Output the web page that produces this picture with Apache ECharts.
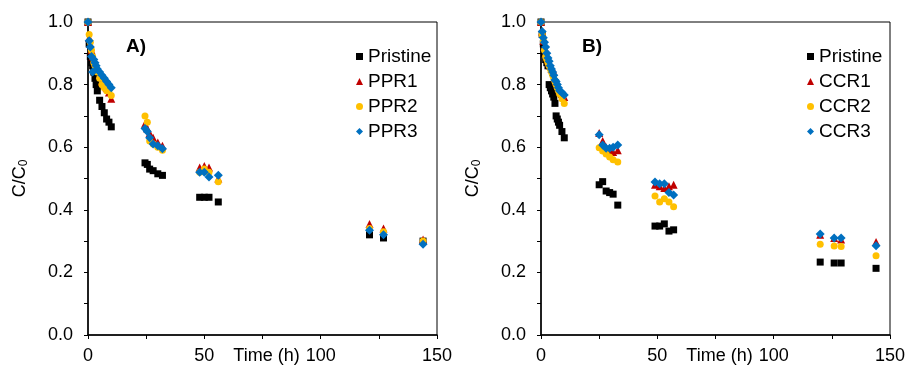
<!DOCTYPE html>
<html>
<head>
<meta charset="utf-8">
<script src="https://cdn.jsdelivr.net/npm/echarts@6/dist/echarts.min.js"></script>
<style>
  html, body { margin: 0; padding: 0; background: #fff; }
  #chart { width: 907px; height: 380px; }
</style>
</head>
<body>
<div id="chart"></div>
<script>
// panel A: times (h) and C/C0 values
let timeA = [0, 0.5, 1, 1.5, 2, 2.5, 3, 3.5, 4, 5, 6, 7, 8, 9, 10,
	24.5, 25.5, 26.5, 28, 30, 32,
	48, 50, 52, 56,
	121, 127, 144];
let pristineA = [1.0, 0.93, 0.89, 0.87, 0.86, 0.84, 0.82, 0.80, 0.78, 0.75, 0.73, 0.71, 0.69, 0.68, 0.665,
	0.55, 0.545, 0.53, 0.525, 0.515, 0.51,
	0.44, 0.44, 0.44, 0.425,
	0.32, 0.31, 0.30];
let ppr1 = [1.0, 0.95, 0.93, 0.91, 0.89, 0.88, 0.87, 0.86, 0.85, 0.83, 0.81, 0.80, 0.79, 0.775, 0.755,
	0.675, 0.66, 0.645, 0.63, 0.615, 0.605,
	0.535, 0.54, 0.535, 0.50,
	0.355, 0.34, 0.305];
let ppr2 = [1.0, 0.96, 0.935, 0.91, 0.89, 0.87, 0.86, 0.85, 0.84, 0.82, 0.80, 0.79, 0.78, 0.78, 0.765,
	0.70, 0.68, 0.62, 0.61, 0.60, 0.59,
	0.52, 0.53, 0.52, 0.49,
	0.34, 0.33, 0.30];
let ppr3 = [1.0, 0.94, 0.92, 0.89, 0.84, 0.88, 0.87, 0.86, 0.85, 0.84, 0.83, 0.82, 0.81, 0.80, 0.79,
	0.66, 0.65, 0.63, 0.61, 0.605, 0.595,
	0.52, 0.52, 0.505, 0.51,
	0.335, 0.32, 0.29];

// panel B
let timeB = [0, 0.5, 1, 1.5, 2, 2.5, 3, 3.5, 4, 4.5, 5, 5.5, 6, 6.5, 7, 7.5, 8, 9, 10,
	25, 26.5, 28, 29.5, 31, 33,
	49, 51, 53, 55, 57,
	120, 126, 129, 144];
let pristineB = [1.0, 0.96, 0.93, 0.90, 0.88, 0.87, 0.86, 0.80, 0.79, 0.78, 0.77, 0.76, 0.74, 0.70, 0.69, 0.68, 0.67, 0.65, 0.63,
	0.48, 0.49, 0.46, 0.455, 0.45, 0.415,
	0.348, 0.348, 0.355, 0.332, 0.336,
	0.233, 0.23, 0.23, 0.213];
let ccr1 = [1.0, 0.97, 0.94, 0.92, 0.90, 0.89, 0.88, 0.87, 0.86, 0.85, 0.85, 0.84, 0.82, 0.81, 0.80, 0.79, 0.78, 0.77, 0.76,
	0.645, 0.62, 0.60, 0.59, 0.585, 0.59,
	0.48, 0.475, 0.47, 0.475, 0.48,
	0.32, 0.31, 0.305, 0.297];
let ccr2 = [1.0, 0.96, 0.94, 0.91, 0.89, 0.88, 0.87, 0.86, 0.85, 0.84, 0.83, 0.82, 0.81, 0.80, 0.79, 0.78, 0.77, 0.755, 0.74,
	0.598, 0.588, 0.578, 0.569, 0.56, 0.553,
	0.444, 0.425, 0.435, 0.425, 0.41,
	0.29, 0.284, 0.283, 0.253];
let ccr3 = [1.0, 0.97, 0.95, 0.935, 0.92, 0.90, 0.885, 0.875, 0.86, 0.85, 0.84, 0.83, 0.815, 0.81, 0.80, 0.79, 0.78, 0.775, 0.767,
	0.64, 0.607, 0.597, 0.597, 0.60, 0.607,
	0.489, 0.483, 0.483, 0.455, 0.447,
	0.323, 0.31, 0.31, 0.285];

let namesA = ['Pristine', 'PPR1', 'PPR2', 'PPR3'];
let namesB = ['Pristine', 'CCR1', 'CCR2', 'CCR3'];

let font = 'Liberation Sans, Arial, sans-serif';
let marks = [
	{ symbol: 'rect', size: 7, color: '#000000' },
	{ symbol: 'triangle', size: 8, color: '#C00000' },
	{ symbol: 'circle', size: 7, color: '#FFC000' },
	{ symbol: 'diamond', size: 9, color: '#0070C0' }
];

function pairs(t, v) {
	return t.map(function (x, i) { return [x, v[i]]; });
}

function makeSeries(names, t, lists, idx) {
	return names.map(function (n, i) {
		return {
			name: n,
			type: 'scatter',
			xAxisIndex: idx,
			yAxisIndex: idx,
			symbol: marks[i].symbol,
			symbolSize: marks[i].size,
			itemStyle: { color: marks[i].color, opacity: 1 },
			data: pairs(t, lists[i])
		};
	});
}

function xAxis(idx) {
	return {
		type: 'value', gridIndex: idx, min: 0, max: 150, interval: 50,
		name: 'Time (h)', nameLocation: 'middle', nameGap: 12, nameMoveOverlap: false,
		nameTextStyle: { fontFamily: font, fontSize: 18, color: '#000', padding: [0, 0, 0, 8], verticalAlign: 'top' },
		axisLine: { onZero: false, lineStyle: { color: '#000', width: 1.5 } },
		axisTick: { show: true, inside: false, length: 4, lineStyle: { color: '#000' } },
		minorTick: { show: true, splitNumber: 2, length: 4, lineStyle: { color: '#000' } },
		axisLabel: { fontFamily: font, fontSize: 18, color: '#000', margin: 12 },
		splitLine: { show: false }
	};
}

function yAxis(idx) {
	return {
		type: 'value', gridIndex: idx, min: 0, max: 1, interval: 0.2,
		name: 'C/C{s|0}', nameLocation: 'middle', nameGap: 58, nameRotate: 90, nameMoveOverlap: false,
		nameTextStyle: {
			fontFamily: font, fontSize: 18, color: '#000',
			rich: { s: { fontFamily: font, fontSize: 12, color: '#000', verticalAlign: 'bottom', padding: [8, 0, 0, 0] } }
		},
		axisLine: { onZero: false, lineStyle: { color: '#000', width: 1.5 } },
		axisTick: { show: true, inside: false, length: 4, lineStyle: { color: '#000' } },
		minorTick: { show: true, splitNumber: 2, length: 4, lineStyle: { color: '#000' } },
		axisLabel: {
			fontFamily: font, fontSize: 18, color: '#000', margin: 15,
			formatter: function (v) { return v.toFixed(1); }
		},
		splitLine: { show: false }
	};
}

function legend(names, left) {
	return {
		data: names, orient: 'vertical', left: left, top: 42,
		itemWidth: 7, itemHeight: 7, itemGap: 6, selectedMode: false,
		textStyle: { fontFamily: font, fontSize: 19, color: '#000', lineHeight: 19 }
	};
}

let ec_chart = echarts.init(document.getElementById('chart'));

let option = {
	backgroundColor: '#fff',
	animation: false,
	title: [
		{ text: 'A)', left: 121, top: 32, textStyle: { fontFamily: font, fontSize: 19, fontWeight: 'bold', color: '#000' } },
		{ text: 'B)', left: 577, top: 32, textStyle: { fontFamily: font, fontSize: 19, fontWeight: 'bold', color: '#000' } }
	],
	grid: [
		{ left: 88, top: 22, width: 349, height: 313, show: true, borderColor: '#000', borderWidth: 1, outerBoundsMode: 'none', containLabel: false },
		{ left: 541, top: 22, width: 349, height: 313, show: true, borderColor: '#000', borderWidth: 1, outerBoundsMode: 'none', containLabel: false }
	],
	legend: [legend(namesA, 351), legend(namesB, 802)],
	xAxis: [xAxis(0), xAxis(1)],
	yAxis: [yAxis(0), yAxis(1)],
	series: makeSeries(namesA, timeA, [pristineA, ppr1, ppr2, ppr3], 0)
		.concat(makeSeries(namesB, timeB, [pristineB, ccr1, ccr2, ccr3], 1))
};

ec_chart.setOption(option);
</script>
</body>
</html>
